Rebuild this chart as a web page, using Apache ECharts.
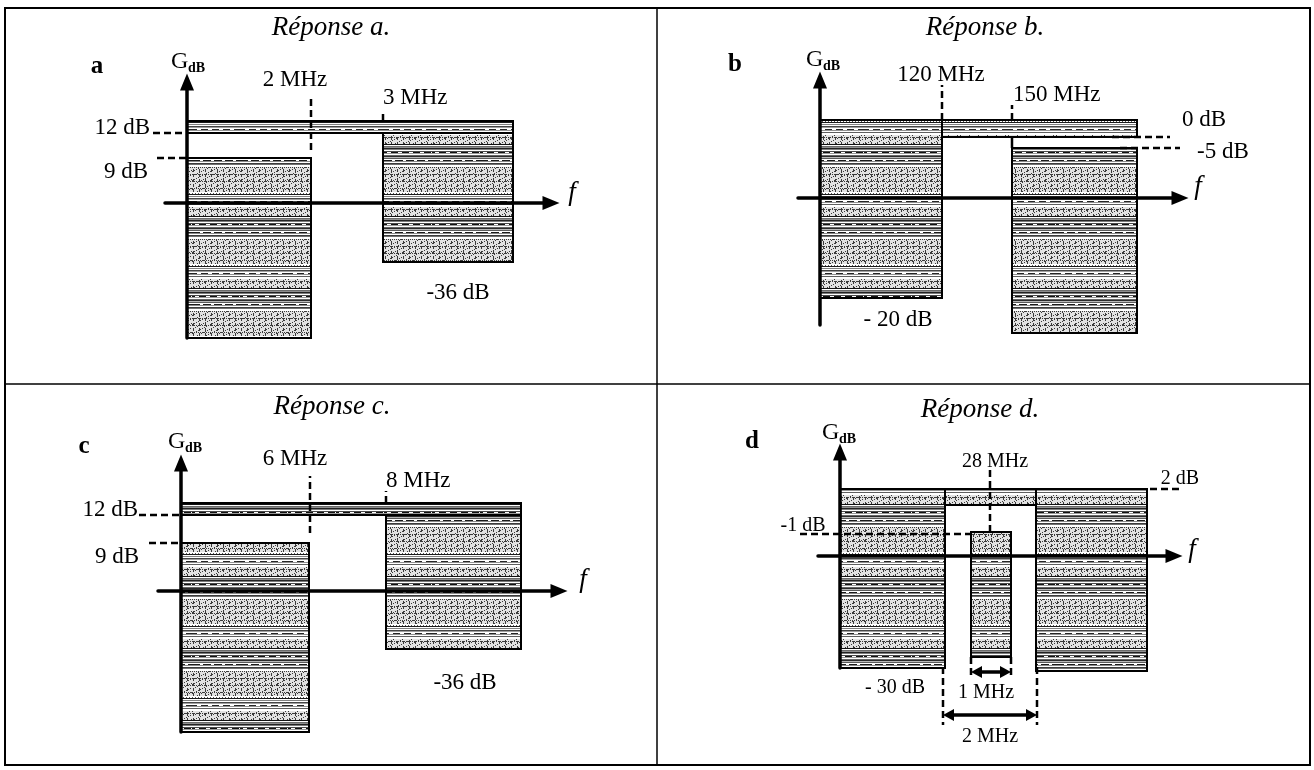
<!DOCTYPE html>
<html><head><meta charset="utf-8">
<script src="https://cdn.jsdelivr.net/npm/echarts@6/dist/echarts.min.js"></script>
<style>html,body{margin:0;padding:0;background:#fff}#c{width:1314px;height:770px}</style>
</head><body><div id="c"></div>
<script>
// ===== Data (schematic template units; 0,0 = axes crossing) =====
// Panel a
const aBoxes  = [[0,12.4,-13.5,4.5],[19.6,32.6,-5.9,7.0],[0,32.6,7.0,8.2]];   // [x0,x1,yBottom,yTop]
const aDashes = [[12.4,5.3,12.4,10.8],[19.6,8.2,19.6,9.3],[-3.4,7.0,0,7.0],[-3.0,4.5,0,4.5]]; // [x0,y0,x1,y1]
const aTexts  = ['a','GdB','2 MHz','3 MHz','12 dB','9 dB','-36 dB','f'];
const aTextAt = [[-9.0,13.6],[0.2,14.1],[10.8,12.3],[19.6,10.5],[-3.7,7.5],[-3.9,3.1],[27.1,-9.0],[38.5,1.0]];
const aKinds  = ['letter','gdb','c','l','r','r','c','f'];
// Panel b
const bBoxes  = [[0,12.2,-10.0,7.8],[19.2,31.7,-13.5,5.0],[12.2,31.7,6.1,7.8]];
const bDashes = [[12.2,7.8,12.2,11.3],[19.2,7.8,19.2,9.3],[29.2,6.1,35.0,6.1],[30.0,5.0,36.0,5.0]];
const bSolids = [[19.2,6.1,19.2,5.0]];
const bTexts  = ['b','GdB','120 MHz','150 MHz','0 dB','-5 dB','- 20 dB','f'];
const bTextAt = [[-8.5,13.3],[0.4,13.8],[12.1,12.3],[19.3,10.3],[36.2,7.8],[37.7,4.6],[7.8,-12.2],[37.8,1.1]];
const bKinds  = ['letter','gdb','c','l','l','l','c','f'];
// Panel c
const cBoxes  = [[0,12.8,-14.1,4.8],[20.5,34.0,-5.8,7.6],[0,34.0,7.6,8.8]];
const cDashes = [[12.9,5.8,12.9,11.5],[20.5,8.8,20.5,10.0],[-4.2,7.6,0,7.6],[-3.2,4.8,0,4.8]];
const cTexts  = ['c','GdB','6 MHz','8 MHz','12 dB','9 dB','-36 dB','f'];
const cTextAt = [[-9.7,14.4],[0.5,14.9],[11.4,13.2],[20.5,11.0],[-4.3,8.1],[-4.2,3.4],[28.4,-9.2],[40.2,1.1]];
const cKinds  = ['letter','gdb','c','l','r','r','c','f'];
// Panel d
const dBoxes  = [[0,10.5,-11.2,6.7],[19.6,30.7,-11.5,6.7],[10.5,19.6,5.1,6.7],[13.1,17.1,-10.1,2.4]];
const dDashes = [[15.0,2.4,15.0,8.6],[-4.0,2.2,13.3,2.2],[31.0,6.7,33.9,6.7],[10.3,-11.1,10.3,-16.9],[19.7,-11.1,19.7,-16.9],[13.1,-10.1,13.1,-12.0],[17.1,-10.1,17.1,-12.0]];
const dSpans  = [[13.1,17.1,-11.6],[10.3,19.7,-15.9]];  // [x0,x1,y] double arrows
const dTexts  = ['d','GdB','28 MHz','2 dB','-1 dB','- 30 dB','1 MHz','2 MHz','f'];
const dTextAt = [[-8.8,11.4],[0.0,12.3],[15.5,9.4],[34.0,7.7],[-3.7,3.0],[5.5,-13.2],[14.6,-13.7],[15.0,-18.1],[35.2,0.6]];
const dKinds  = ['letter','gdb','c','c','c','c','c','c','f'];
// axis extents per panel
const xRanges = [[-2.2,36.4],[-2.2,36.0],[-2.3,37.8],[-2.2,33.4]];
const yRanges = [[-13.5,12.1],[-12.7,11.8],[-14.1,12.8],[-11.2,10.4]];
const titles  = ['Réponse a.','Réponse b.','Réponse c.','Réponse d.'];

// ===== Layout / style =====
const SERIF = '"Liberation Serif","DejaVu Serif",serif';
const grids = [
  {left:165, top:82, width:386, height:256},
  {left:798, top:80, width:382, height:245},
  {left:158, top:463, width:401, height:269},
  {left:818, top:452, width:356, height:216}
];
const labelSize = [23,23,23,20];
const titlePos = [[331,28],[985,28],[332,407],[980,410]];

function makeTexture(){
  const W = 48, H = 72;
  const c = document.createElement('canvas'); c.width = W; c.height = H;
  const g = c.getContext('2d');
  g.fillStyle = '#ffffff'; g.fillRect(0,0,W,H);
  // dark line band (rows 0-21)
  const band1 = ['#111111','#ffffff','#6a6a6a','#8e8e8e','#222222','#7c7c7c','#ffffff','#4a4a4a','#111111','#9a9a9a',
                 '#ffffff','#666666','#2a2a2a','#b8b8b8','#5a5a5a','#ffffff','#1a1a1a','#8a8a8a','#ffffff','#3c3c3c','#707070','#ffffff'];
  band1.forEach((col,i)=>{ g.fillStyle = col; g.fillRect(0,i,W,1); });
  // second line band rows 50-61
  const band2 = ['#1a1a1a','#ffffff','#808080','#ffffff','#444444','#a0a0a0','#ffffff','#262626','#909090','#ffffff','#5e5e5e','#ffffff'];
  band2.forEach((col,i)=>{ g.fillStyle = col; g.fillRect(0,50+i,W,1); });
  // sparse breaks inside the line bands
  g.fillStyle = '#ffffff';
  for (let x = 3; x < W; x += 11) { g.fillRect(x,8,4,1); g.fillRect(x+5,16,3,1); g.fillRect(x+2,57,4,1); }
  function stipple(y0,y1){
    g.fillStyle = '#e2e2e2'; g.fillRect(0,y0,W,y1-y0);
    g.fillStyle = '#3a3a3a';
    for (let y=y0; y<y1; y++) for (let x=0; x<W; x++) {
      const v = (x*7 + y*5) % 9;
      if (v === 0 || (x % 6 === 1 && (y % 5) < 3) || (y % 7 === 2 && x % 2 === 0)) g.fillRect(x,y,1,1);
    }
  }
  stipple(23,48); stipple(63,72);
  g.fillStyle = '#ffffff'; g.fillRect(0,22,W,1); g.fillRect(0,48,W,2); g.fillRect(0,62,W,1);
  g.fillStyle = '#555555';
  for (let x = 0; x < W; x += 3) g.fillRect(x,49,1,1);
  return c;
}
const tex = makeTexture();

function boxSeries(gi, data){
  return {type:'custom', xAxisIndex:gi, yAxisIndex:gi, silent:true, clip:false, z:2, data,
    renderItem(p, api){
      const a = api.coord([api.value(0), api.value(3)]);
      const b = api.coord([api.value(1), api.value(2)]);
      return {type:'rect', shape:{x:a[0], y:a[1], width:b[0]-a[0], height:b[1]-a[1]},
        style:{fill:{image:tex, repeat:'repeat'}, stroke:'#000', lineWidth:2}};
    }};
}
function lineSeries(gi, data, dashed){
  return {type:'custom', xAxisIndex:gi, yAxisIndex:gi, silent:true, clip:false, z:4, data,
    renderItem(p, api){
      const a = api.coord([api.value(0), api.value(1)]);
      const b = api.coord([api.value(2), api.value(3)]);
      return {type:'line', shape:{x1:a[0],y1:a[1],x2:b[0],y2:b[1]},
        style:{stroke:'#000', lineWidth:2.5, lineDash: dashed ? [7,4] : null}};
    }};
}
function spanSeries(gi, data){
  return {type:'custom', xAxisIndex:gi, yAxisIndex:gi, silent:true, clip:false, z:5, data,
    renderItem(p, api){
      const a = api.coord([api.value(0), api.value(2)]);
      const b = api.coord([api.value(1), api.value(2)]);
      const h = 11, w = 6;
      return {type:'group', children:[
        {type:'line', shape:{x1:a[0]+h-2,y1:a[1],x2:b[0]-h+2,y2:b[1]}, style:{stroke:'#000', lineWidth:3.5}},
        {type:'polygon', shape:{points:[[a[0],a[1]],[a[0]+h,a[1]-w],[a[0]+h,a[1]+w]]}, style:{fill:'#000'}},
        {type:'polygon', shape:{points:[[b[0],b[1]],[b[0]-h,b[1]-w],[b[0]-h,b[1]+w]]}, style:{fill:'#000'}}
      ]};
    }};
}
function textSeries(gi, texts, at, kinds){
  const fs = labelSize[gi];
  return {type:'custom', xAxisIndex:gi, yAxisIndex:gi, silent:true, clip:false, z:6,
    data: at.map((q,i)=>[q[0],q[1],i]),
    renderItem(p, api){
      const i = api.value(2);
      const c = api.coord([api.value(0), api.value(1)]);
      const k = kinds[i];
      const base = {fill:'#000', textVerticalAlign:'middle', verticalAlign:'middle'};
      if (k === 'gdb') {
        return {type:'group', children:[
          {type:'text', x:c[0]-18, y:c[1], style:Object.assign({}, base, {text:'G', font:'24px '+SERIF, textAlign:'left', align:'left'})},
          {type:'text', x:c[0]-1, y:c[1]+6, style:Object.assign({}, base, {text:'dB', font:'bold 14px '+SERIF, textAlign:'left', align:'left'})}
        ]};
      }
      let font = fs + 'px ' + SERIF, al = 'center';
      if (k === 'letter') font = 'bold 25px ' + SERIF;
      else if (k === 'f') font = 'italic 27px ' + SERIF;
      else if (k === 'l') al = 'left';
      else if (k === 'r') al = 'right';
      return {type:'text', x:c[0], y:c[1], style:Object.assign({}, base, {text:texts[i], font, textAlign:al, align:al})};
    }};
}

const panels = [
  {boxes:aBoxes, dashes:aDashes, solids:[], spans:[], texts:aTexts, at:aTextAt, kinds:aKinds},
  {boxes:bBoxes, dashes:bDashes, solids:bSolids, spans:[], texts:bTexts, at:bTextAt, kinds:bKinds},
  {boxes:cBoxes, dashes:cDashes, solids:[], spans:[], texts:cTexts, at:cTextAt, kinds:cKinds},
  {boxes:dBoxes, dashes:dDashes, solids:[], spans:dSpans, texts:dTexts, at:dTextAt, kinds:dKinds}
];
const series = [];
panels.forEach((P, gi) => {
  series.push(boxSeries(gi, P.boxes));
  series.push(lineSeries(gi, P.dashes, true));
  if (P.solids.length) series.push(lineSeries(gi, P.solids, false));
  if (P.spans.length) series.push(spanSeries(gi, P.spans));
  series.push(textSeries(gi, P.texts, P.at, P.kinds));
});

const axisCommon = {
  type:'value', z:10,
  axisLine:{show:true, onZero:true, symbol:['none','triangle'], symbolSize:[14,17], lineStyle:{color:'#000', width:3.5}},
  axisTick:{show:false}, axisLabel:{show:false}, splitLine:{show:false}
};
const xAxis = grids.map((g,i)=>Object.assign({}, axisCommon, {gridIndex:i, min:xRanges[i][0], max:xRanges[i][1]}));
const yAxis = grids.map((g,i)=>Object.assign({}, axisCommon, {gridIndex:i, min:yRanges[i][0], max:yRanges[i][1]}));

const L = 5, R = 1310, T = 8, B = 765, MX = 657, MY = 384;
const frame = [
  {type:'rect', shape:{x:L, y:T, width:R-L, height:B-T}, style:{fill:'none', stroke:'#000', lineWidth:2}},
  {type:'line', shape:{x1:MX, y1:T, x2:MX, y2:B}, style:{stroke:'#000', lineWidth:1.5}},
  {type:'line', shape:{x1:L, y1:MY, x2:R, y2:MY}, style:{stroke:'#000', lineWidth:1.5}}
];
const titleEls = titles.map((t,i)=>({type:'text', x:titlePos[i][0], y:titlePos[i][1],
  style:{text:t, font:'italic 27px '+SERIF, fill:'#000', textAlign:'center', align:'center', textVerticalAlign:'middle', verticalAlign:'middle'}}));

const chart = echarts.init(document.getElementById('c'));
chart.setOption({
  animation:false,
  backgroundColor:'#ffffff',
  grid: grids,
  xAxis, yAxis,
  series,
  graphic: frame.concat(titleEls)
});
</script>
</body></html>
